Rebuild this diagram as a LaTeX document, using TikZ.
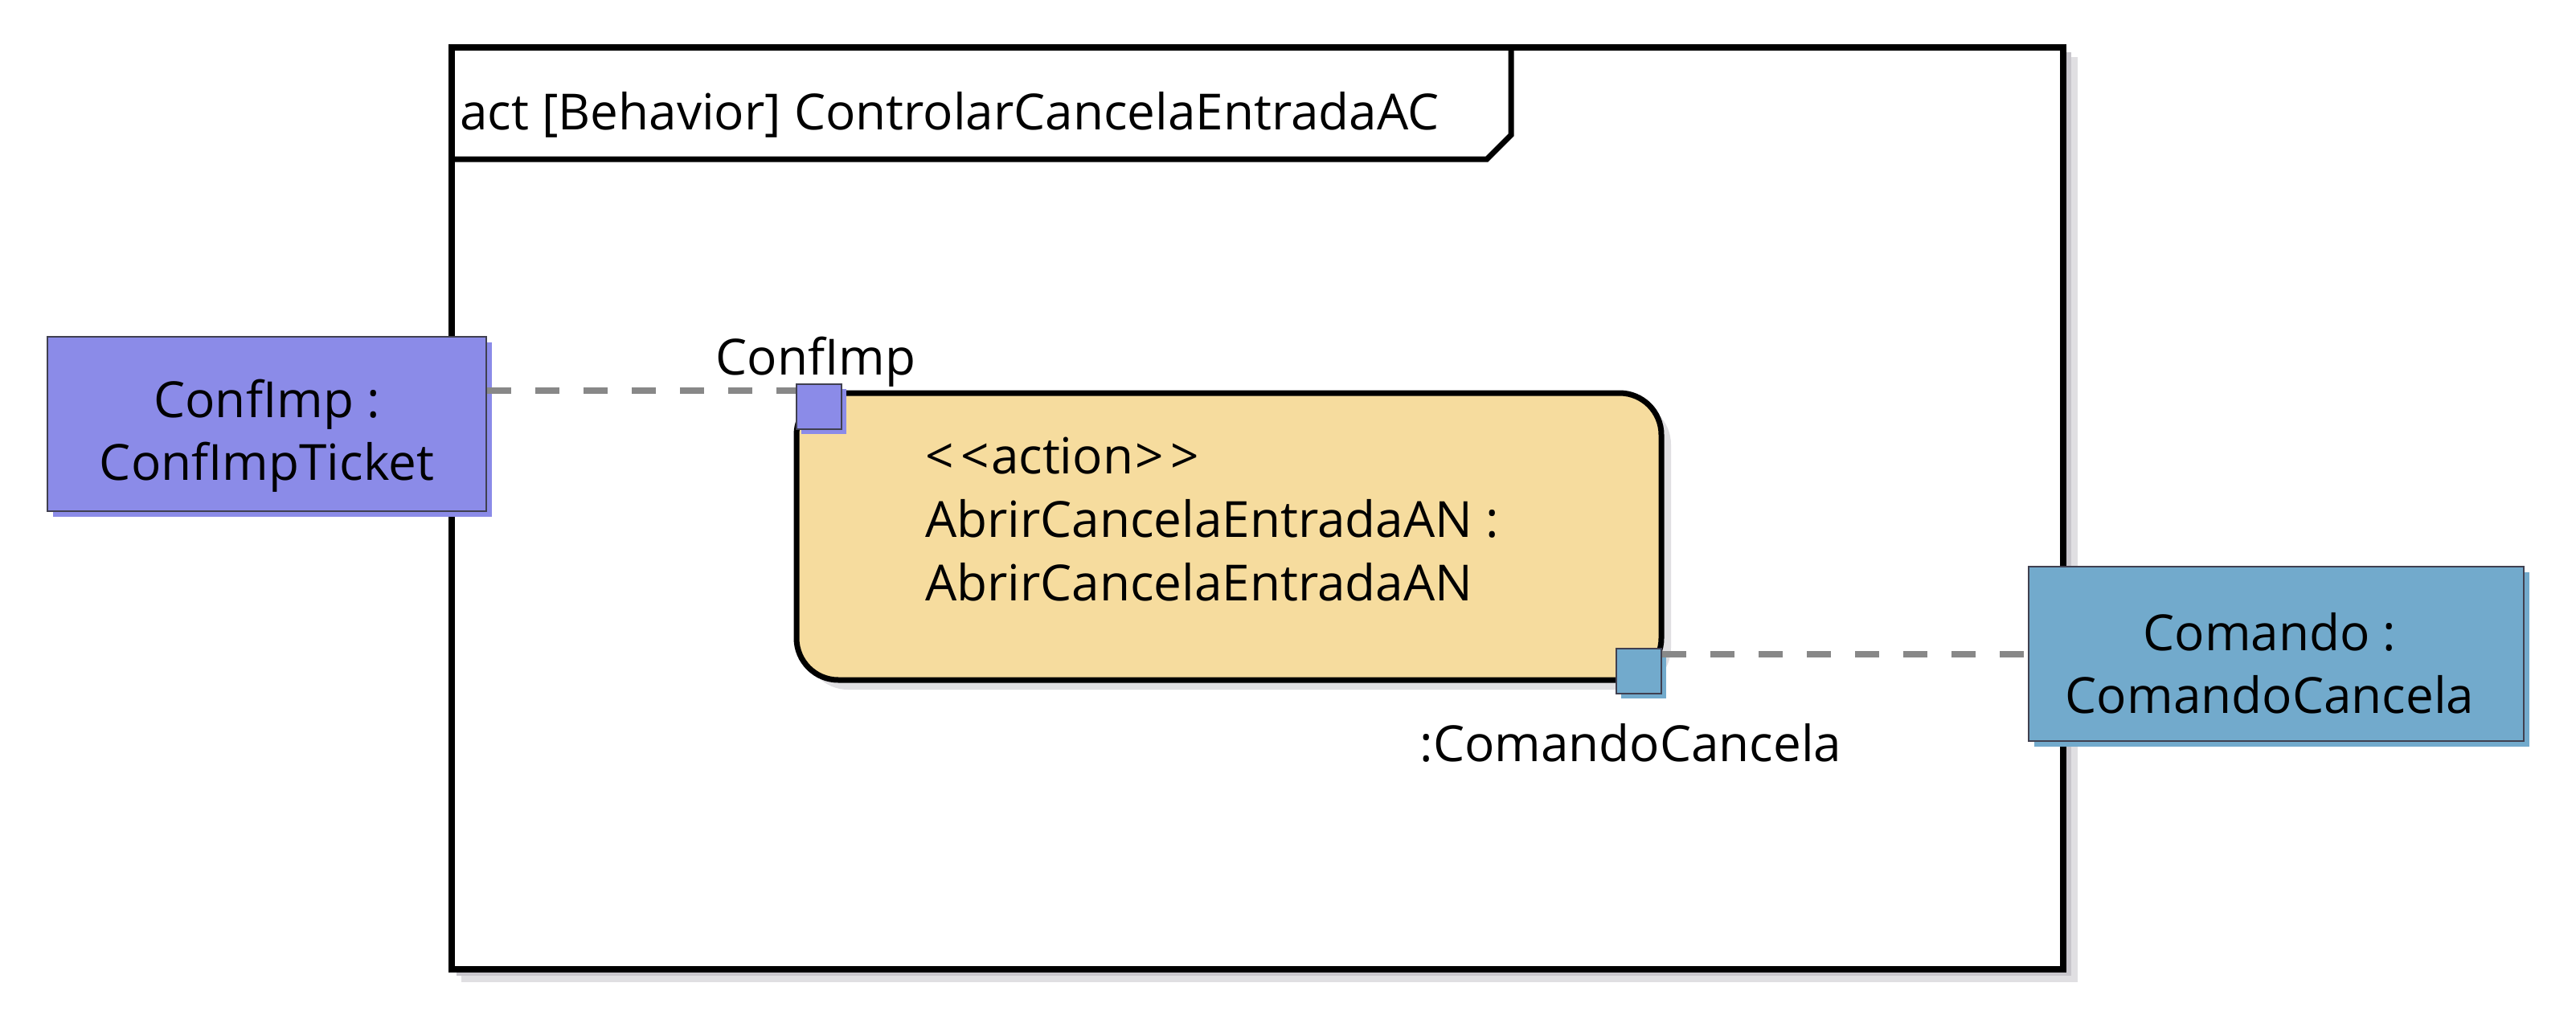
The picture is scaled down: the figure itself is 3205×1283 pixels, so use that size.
\documentclass[tikz,border=0pt]{standalone}
\usepackage{fontspec}
\setmainfont{Open Sans}
\usetikzlibrary{shadows}
\definecolor{confblue}{RGB}{139,139,232}
\definecolor{cmdblue}{RGB}{114,170,204}
\definecolor{actfill}{RGB}{246,220,158}
\definecolor{connGray}{RGB}{136,136,136}
\definecolor{edgeGray}{RGB}{64,64,80}
\definecolor{shadowA}{RGB}{200,198,204}
\definecolor{shadowB}{RGB}{224,223,226}
\tikzset{
  txt/.style={font=\fontsize{62}{78}\selectfont, inner sep=0pt},
  objbox/.style={draw=edgeGray, line width=2pt,
    drop shadow={shadow xshift=7pt, shadow yshift=-7pt, fill=#1, opacity=1}, fill=#1},
  portbox/.style={draw=edgeGray, line width=2pt, minimum width=56pt, minimum height=56pt, inner sep=0pt,
    drop shadow={shadow xshift=6pt, shadow yshift=-6pt, fill=#1, opacity=1}, fill=#1},
  actbox/.style={draw=black, line width=7pt, fill=actfill, rounded corners=52pt,
    double copy shadow={shadow xshift=6pt, shadow yshift=-6pt, fill=shadowB, draw=none, opacity=1}},
  conn/.style={draw=connGray, line width=8pt, dash pattern=on 30pt off 30pt},
}
\begin{document}
\begin{tikzpicture}[x=1pt,y=-1pt]
\useasboundingbox (0,0) rectangle (3205,1283);
% frame with shadow
\fill[shadowB] (574,71) rectangle (2585,1222);
\fill[shadowA] (568,65) rectangle (2577,1214);
\node[draw=black, fill=white, line width=8pt, minimum width=2005pt, minimum height=1147pt, inner sep=0pt] (frame) at (1564.5,632.5) {};
\draw[line width=7pt, line join=miter] (frame.north west |- 0,198) -- (1850,198) -- (1880,168) -- (1880,0 |- frame.north);
\node[txt, anchor=west] (title) at (572,143) {act [Behavior] ControlarCancelaEntradaAC};
% action
\node[actbox, minimum width=1076pt, minimum height=357pt] (act) at (1529,667.5) {};
\node[txt, anchor=north west, align=left, font=\fontsize{62}{79}\selectfont] (acttext) at (1151,544)
  {<\kern9pt<\kern2pt action\kern2pt>\kern9pt>\\AbrirCancelaEntradaAN :\\AbrirCancelaEntradaAN};
% object boxes
\node[objbox=confblue, minimum width=546pt, minimum height=217pt] (confimp) at (332,527.5) {};
\node[txt, align=center] (confimptext) at ([yshift=-15pt]confimp.center) {ConfImp :\\ConfImpTicket};
\node[objbox=cmdblue, minimum width=616pt, minimum height=217pt] (comando) at (2832,813.5) {};
\node[txt, align=center] (comandotext) at ([yshift=-12pt,xshift=-8pt]comando.center) {Comando :\\ComandoCancela};
% ports
\node[portbox=confblue] (confport) at (1019,506) {};
\node[portbox=cmdblue] (comport) at (2039,835) {};
\node[txt] (confportlbl) at (1015,450) {ConfImp};
\node[txt] (comportlbl) at (2029,924) {:ComandoCancela};
% connectors
\draw[conn] (confimp.east |- act.north) -- (confport.west |- act.north);
\draw[conn] (comport.east |- comando.west) -- (comando.west);
\end{tikzpicture}
\end{document}
